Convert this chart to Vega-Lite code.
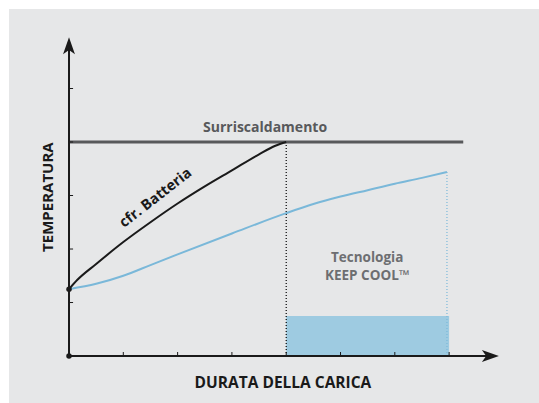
{
  "$schema": "https://vega.github.io/schema/vega-lite/v6.json",
  "width": 539,
  "height": 403,
  "autosize": {"type": "fit", "contains": "padding"},
  "padding": {"left": 9, "top": 9, "right": 0, "bottom": 0},
  "background": "#ffffff",
  "view": {"stroke": null, "fill": "#e6e7e8"},
  "config": {"font": "Open Sans"},
  "datasets": {
    "batteria": [
      {"x": 0, "y": 1.25}, {"x": 0.15, "y": 1.42}, {"x": 0.5, "y": 1.72}, {"x": 1, "y": 2.13},
      {"x": 1.5, "y": 2.5}, {"x": 2, "y": 2.85}, {"x": 2.5, "y": 3.17}, {"x": 3, "y": 3.47},
      {"x": 3.5, "y": 3.77}, {"x": 3.8, "y": 3.93}, {"x": 4, "y": 4.0}
    ],
    "keepcool": [
      {"x": 0, "y": 1.25}, {"x": 0.5, "y": 1.35}, {"x": 1, "y": 1.5}, {"x": 1.5, "y": 1.7},
      {"x": 2, "y": 1.9}, {"x": 3, "y": 2.29}, {"x": 4, "y": 2.67}, {"x": 4.5, "y": 2.84},
      {"x": 5, "y": 2.98}, {"x": 5.5, "y": 3.1}, {"x": 6, "y": 3.22}, {"x": 6.5, "y": 3.33},
      {"x": 6.96, "y": 3.44}
    ],
    "xticks": [{"x": 1}, {"x": 2}, {"x": 3}, {"x": 4}, {"x": 5}, {"x": 6}, {"x": 7}],
    "yticks": [{"y": 1}, {"y": 2}, {"y": 3}, {"y": 4}, {"y": 5}]
  },
  "encoding": {
    "x": {"field": "x", "type": "quantitative", "axis": null, "scale": {"domain": [-1.105, 8.655], "nice": false, "zero": false}},
    "y": {"field": "y", "type": "quantitative", "axis": null, "scale": {"domain": [-0.878, 6.486], "nice": false, "zero": false}}
  },
  "layer": [
    {
      "data": {"values": [{"x": 4, "x2": 7, "y": 0, "y2": 0.75}]},
      "mark": {"type": "rect", "fill": "#9ecbe1"},
      "encoding": {"x2": {"field": "x2"}, "y2": {"field": "y2"}}
    },
    {
      "data": {"values": [{"x": 4, "y": 0, "y2": 4}]},
      "mark": {"type": "rule", "stroke": "#000000", "strokeWidth": 1.2, "strokeDash": [1, 2]},
      "encoding": {"y2": {"field": "y2"}}
    },
    {
      "data": {"values": [{"x": 6.96, "y": 0, "y2": 3.44}]},
      "mark": {"type": "rule", "stroke": "#7ab8d9", "strokeWidth": 1.2, "strokeDash": [1, 2]},
      "encoding": {"y2": {"field": "y2"}}
    },
    {
      "data": {"values": [{"x": 0, "x2": 7.26, "y": 4}]},
      "mark": {"type": "rule", "stroke": "#58595b", "strokeWidth": 3},
      "encoding": {"x2": {"field": "x2"}}
    },
    {
      "data": {"name": "keepcool"},
      "mark": {"type": "line", "interpolate": "monotone", "stroke": "#7ab8d9", "strokeWidth": 2},
      "encoding": {}
    },
    {
      "data": {"name": "batteria"},
      "mark": {"type": "line", "interpolate": "monotone", "stroke": "#1a1a1a", "strokeWidth": 2},
      "encoding": {}
    },
    {
      "data": {"name": "xticks"},
      "transform": [{"calculate": "0", "as": "y"}, {"calculate": "0.075", "as": "y2"}],
      "mark": {"type": "rule", "stroke": "#1a1a1a", "strokeWidth": 1},
      "encoding": {"y2": {"field": "y2"}}
    },
    {
      "data": {"name": "yticks"},
      "transform": [{"calculate": "0", "as": "x"}, {"calculate": "0.075", "as": "x2"}],
      "mark": {"type": "rule", "stroke": "#1a1a1a", "strokeWidth": 1},
      "encoding": {"x2": {"field": "x2"}}
    },
    {
      "data": {"values": [{"x": 0, "x2": 7.7, "y": 0}]},
      "mark": {"type": "rule", "stroke": "#1a1a1a", "strokeWidth": 2},
      "encoding": {"x2": {"field": "x2"}}
    },
    {
      "data": {"values": [{"x": 0, "y": 0, "y2": 5.8}]},
      "mark": {"type": "rule", "stroke": "#1a1a1a", "strokeWidth": 2},
      "encoding": {"y2": {"field": "y2"}}
    },
    {
      "data": {"values": [{"x": 7.76, "y": 0}]},
      "mark": {"type": "point", "filled": true, "opacity": 1, "color": "#1a1a1a", "size": 289, "shape": "M1,0 L-1,-0.7 L-0.5,0 L-1,0.7 Z"},
      "encoding": {}
    },
    {
      "data": {"values": [{"x": 0, "y": 5.8}]},
      "mark": {"type": "point", "filled": true, "opacity": 1, "color": "#1a1a1a", "size": 289, "shape": "M0,-1 L-0.7,1 L0,0.5 L0.7,1 Z"},
      "encoding": {}
    },
    {
      "data": {"values": [{"x": 0, "y": 0}, {"x": 0, "y": 1.25}]},
      "mark": {"type": "point", "filled": true, "opacity": 1, "color": "#1a1a1a", "size": 30},
      "encoding": {}
    },
    {
      "data": {"values": [{"x": 3.61, "y": 4.26, "label": "Surriscaldamento"}]},
      "mark": {"type": "text", "fontSize": 14, "fontWeight": "bold", "color": "#58595b", "align": "center", "baseline": "middle"},
      "encoding": {"text": {"field": "label"}}
    },
    {
      "data": {"values": [{"x": 1.6, "y": 2.95, "label": "cfr. Batteria"}]},
      "mark": {"type": "text", "fontSize": 14.5, "fontWeight": "bold", "color": "#1a1a1a", "align": "center", "baseline": "middle", "angle": 322},
      "encoding": {"text": {"field": "label"}}
    },
    {
      "data": {"values": [{"x": 5.49, "y": 1.83, "label": "Tecnologia"}, {"x": 5.49, "y": 1.5, "label": "KEEP COOL™"}]},
      "mark": {"type": "text", "fontSize": 13.5, "fontWeight": "bold", "color": "#6d6e71", "align": "center", "baseline": "middle"},
      "encoding": {"text": {"field": "label"}}
    },
    {
      "data": {"values": [{"x": -0.39, "y": 2.97, "label": "TEMPERATURA"}]},
      "mark": {"type": "text", "fontSize": 15, "fontWeight": "bold", "color": "#1a1a1a", "align": "center", "baseline": "middle", "angle": 270},
      "encoding": {"text": {"field": "label"}}
    },
    {
      "data": {"values": [{"x": 3.94, "y": -0.505, "label": "DURATA DELLA CARICA"}]},
      "mark": {"type": "text", "fontSize": 15.5, "fontWeight": "bold", "color": "#1a1a1a", "align": "center", "baseline": "middle"},
      "encoding": {"text": {"field": "label"}}
    }
  ]
}
